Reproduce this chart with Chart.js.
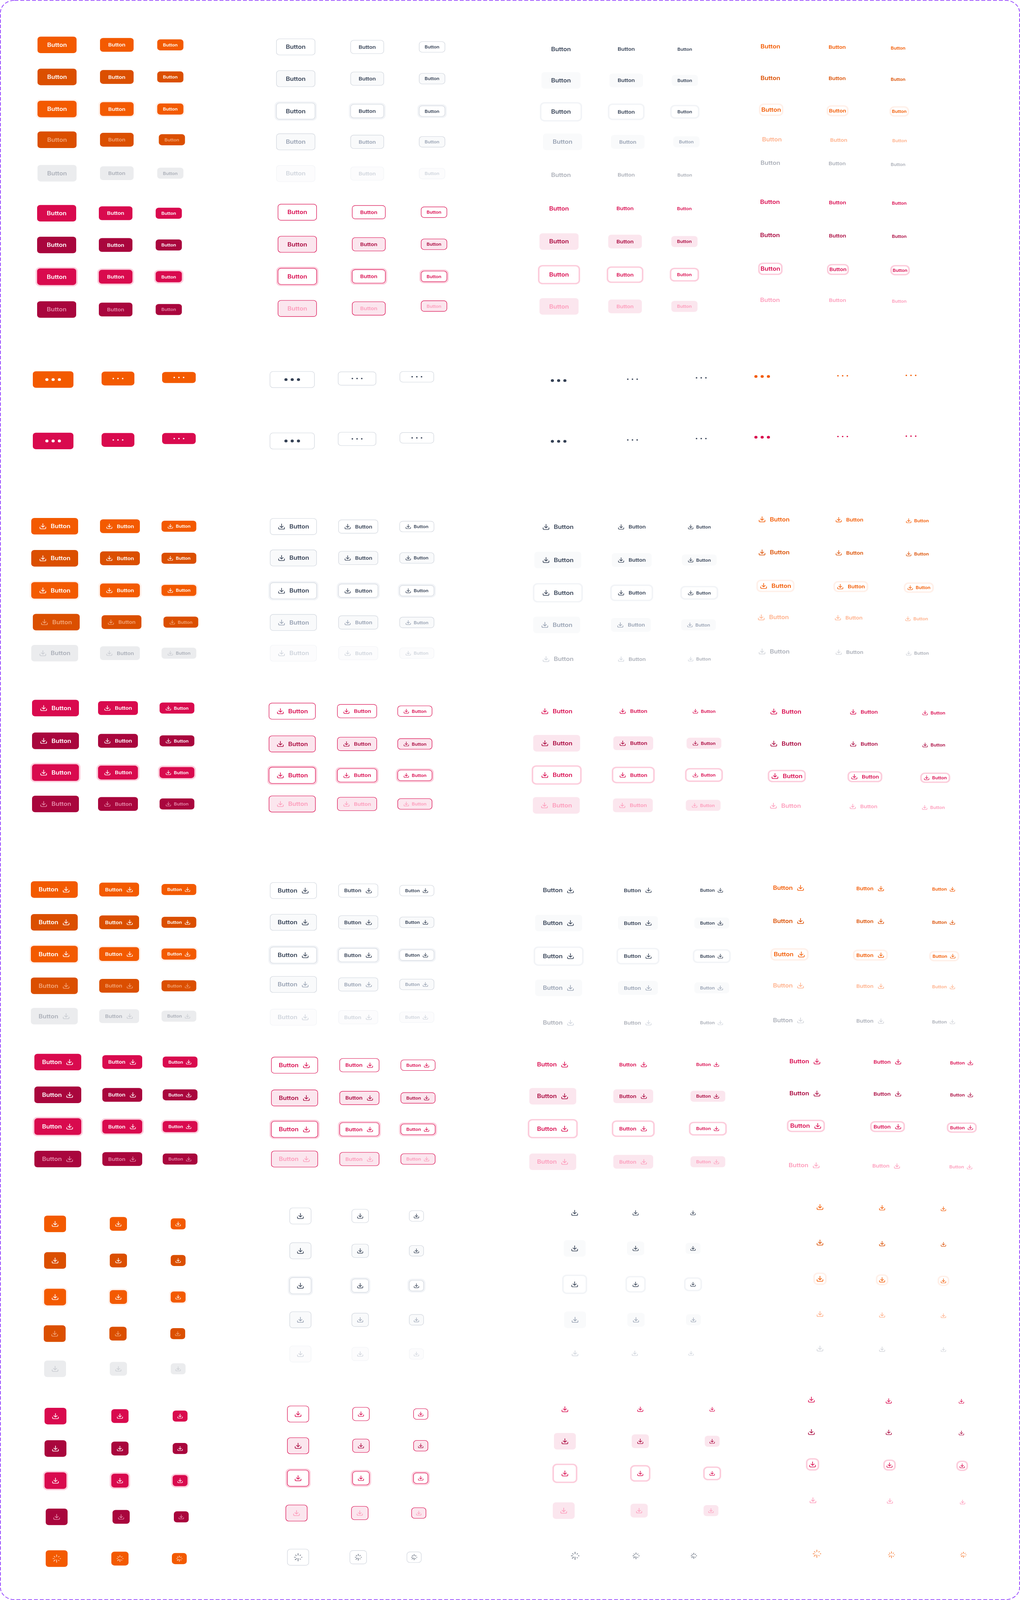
<!DOCTYPE html>
<html>
<head>
<meta charset="utf-8">
<title>Buttons</title>
<script src="https://cdn.jsdelivr.net/npm/chart.js@4"></script>
<style>
  html,body{margin:0;padding:0;background:#fff;overflow:hidden;}
  canvas{display:block;}
</style>
</head>
<body>
<canvas id="buttons_chart"></canvas>
<script>
// label on every button
const buttonLabel = 'Button';

// value arrays: x is [large,medium,small], nested when a row differs, y is one per row
// text only
const textFillOrangeX = [[146,299,436],[146,299,436],[146,299,436],[146,299,440],[146,299,436]];
const textFillOrangeY = [130,223,316,405,502];
const textFillPinkX = [145,296,432];
const textFillPinkY = [618,710,802,897];
const textLineGrayX = [757,940,1106];
const textLineGrayY = [136,228,322,411,503];
const textLinePinkX = [761,944,1111];
const textLinePinkY = [615,708,801,[894,894,887]];
const textPlainGrayX = [[1436,1603,1753],[1436,1603,1753],[1436,1603,1753],[1440,1607,1757],[1436,1603,1753]];
const textPlainGrayY = [142,233,324,411,507];
const textPlainPinkX = [1431,1600,1752];
const textPlainPinkY = [604,700,796,888];
const textLinkOrangeX = [[1972,2143,2299],[1972,2143,2299],[1974,2144,2302],[1976,2147,2303],[1972,2143,2299]];
const textLinkOrangeY = [[135,136,139],[226,227,230],[318,321,323],[404,406,408],[472,474,477]];
const textLinkPinkX = [[1971,2144,2302],[1971,2144,2302],[1972,2145,2304],[1971,2144,2302]];
const textLinkPinkY = [[585,587,589],[681,683,685],[779,781,783],[869,870,873]];

// dots only
const dotsFillOrangeX = [136,302,458];
const dotsFillOrangeY = [[1100,1097,1094]];
const dotsFillPinkX = [136,302,458];
const dotsFillPinkY = [[1278,1275,1271]];
const dotsLineGrayX = [748,914,1067];
const dotsLineGrayY = [[1100,1097,1092],[1278,1272,1269]];
const dotsPlainGrayX = [1430,1619,1795];
const dotsPlainGrayY = [[1103,1099,1095],[1279,1275,1271]];
const dotsLinkOrangeX = [1951,2157,2332];
const dotsLinkOrangeY = [[1091,1089,1088]];
const dotsLinkPinkX = [1951,2157,2332];
const dotsLinkPinkY = [[1267,1265,1264]];

// icon before the text
const leadFillOrangeX = [[140,307,458],[140,307,458],[140,307,458],[144,311,463],[140,307,458]];
const leadFillOrangeY = [1525,1618,1711,1803,1893];
const leadFillPinkX = [142,302,453];
const leadFillPinkY = [2052,2147,2239,2330];
const leadLineGrayX = [751,917,1067];
const leadLineGrayY = [1526,1617,1712,1804,1893];
const leadLinePinkX = [748,914,1062];
const leadLinePinkY = [2061,2156,2247,2330];
const leadPlainGrayX = [[1428,1617,1790],[1428,1617,1790],[1428,1617,1790],[1425,1615,1788],[1428,1617,1790]];
const leadPlainGrayY = [1527,1623,1718,1811,1910];
const leadPlainPinkX = [[1425,1621,1802],[1425,1621,1802],[1425,1621,1802],[1424,1620,1800]];
const leadPlainPinkY = [2061,2154,2246,2334];
const leadLinkOrangeX = [[1981,2174,2348],[1981,2174,2348],[1985,2178,2352],[1979,2172,2346],[1981,2174,2348]];
const leadLinkOrangeY = [[1505,1506,1509],[1601,1602,1605],[1698,1700,1703],[1789,1790,1793],[1888,1890,1893]];
const leadLinkPinkX = [[2011,2211,2390],[2011,2211,2390],[2014,2214,2394],[2010,2210,2389]];
const leadLinkPinkY = [[2062,2063,2066],[2155,2156,2159],[2249,2251,2254],[2335,2337,2340]];

// icon after the text
const trailFillOrangeX = [139,305,458];
const trailFillOrangeY = [2578,2673,2765,2857,2945];
const trailFillPinkX = [148,313,461];
const trailFillPinkY = [3078,3173,3265,3359];
const trailLineGrayX = [751,917,1067];
const trailLineGrayY = [2581,2673,2768,2853,2948];
const trailLinePinkX = [754,920,1070];
const trailLinePinkY = [3087,3182,3273,3359];
const trailPlainGrayX = [1430,1633,1822];
const trailPlainGrayY = [2580,2675,2771,2863,2964];
const trailPlainPinkX = [1415,1621,1812];
const trailPlainPinkY = [3085,3177,3271,3367];
const trailLinkOrangeX = [[2019,2228,2416],[2019,2228,2416],[2021,2228,2417],[2019,2228,2416],[2019,2228,2416]];
const trailLinkOrangeY = [[2573,2575,2577],[2669,2670,2673],[2766,2768,2771],[2856,2858,2860],[2957,2959,2961]];
const trailLinkPinkX = [[2061,2272,2462],[2061,2272,2462],[2063,2272,2462],[2059,2269,2460]];
const trailLinkPinkY = [[3076,3077,3080],[3169,3170,3173],[3263,3265,3268],[3377,3379,3382]];

// icon only
const iconFillOrangeX = [[141,303,456],[141,303,456],[141,303,456],[140,302,455],[141,303,456]];
const iconFillOrangeY = [3547,3653,3759,3865,3967];
const iconFillPinkX = [[142,307,461],[142,307,461],[142,307,461],[145,310,464]];
const iconFillPinkY = [4104,4198,4291,4396];
const iconLineGrayX = [769,922,1066];
const iconLineGrayY = [3524,3625,3726,3825,3924];
const iconLinePinkX = [[763,924,1077],[763,924,1077],[763,924,1077],[759,921,1072]];
const iconLinePinkY = [4098,4190,4284,4385];
const iconPlainGrayX = [[1471,1627,1774],[1471,1627,1774],[1471,1627,1774],[1472,1628,1775],[1472,1625,1769]];
const iconPlainGrayY = [3515,3618,3722,3825,3922];
const iconPlainPinkX = [[1446,1639,1823],[1446,1639,1823],[1446,1639,1823],[1443,1636,1820]];
const iconPlainPinkY = [4084,4177,4270,4378];
const iconLinkOrangeX = [2099,2258,2415];
const iconLinkOrangeY = [[3498,3500,3503],[3601,3604,3606],[3706,3709,3712],[3808,3811,3813],[3908,3910,3911]];
const iconLinkPinkX = [[2077,2275,2461],[2077,2275,2461],[2080,2277,2463],[2081,2278,2464]];
const iconLinkPinkY = [[4056,4060,4061],[4150,4151,4153],[4244,4246,4248],[4348,4350,4353]];

// spinner
const spinFillOrangeX = [145,307,459];
const spinFillOrangeY = [4517];
const spinLineGrayX = [763,917,1060];
const spinLineGrayY = [4513];
const spinPlainGrayX = [1472,1628,1776];
const spinPlainGrayY = [4509];
const spinLinkOrangeX = [2091,2282,2466];
const spinLinkOrangeY = [[4503,4506,4506]];

const gBlocks = [
  ['text','fillOrange',textFillOrangeX,textFillOrangeY],
  ['text','fillPink',textFillPinkX,textFillPinkY],
  ['text','lineGray',textLineGrayX,textLineGrayY],
  ['text','linePink',textLinePinkX,textLinePinkY],
  ['text','plainGray',textPlainGrayX,textPlainGrayY],
  ['text','plainPink',textPlainPinkX,textPlainPinkY],
  ['text','linkOrange',textLinkOrangeX,textLinkOrangeY],
  ['text','linkPink',textLinkPinkX,textLinkPinkY],
  ['dots','fillOrange',dotsFillOrangeX,dotsFillOrangeY],
  ['dots','fillPink',dotsFillPinkX,dotsFillPinkY],
  ['dots','lineGray',dotsLineGrayX,dotsLineGrayY],
  ['dots','plainGray',dotsPlainGrayX,dotsPlainGrayY],
  ['dots','linkOrange',dotsLinkOrangeX,dotsLinkOrangeY],
  ['dots','linkPink',dotsLinkPinkX,dotsLinkPinkY],
  ['lead','fillOrange',leadFillOrangeX,leadFillOrangeY],
  ['lead','fillPink',leadFillPinkX,leadFillPinkY],
  ['lead','lineGray',leadLineGrayX,leadLineGrayY],
  ['lead','linePink',leadLinePinkX,leadLinePinkY],
  ['lead','plainGray',leadPlainGrayX,leadPlainGrayY],
  ['lead','plainPink',leadPlainPinkX,leadPlainPinkY],
  ['lead','linkOrange',leadLinkOrangeX,leadLinkOrangeY],
  ['lead','linkPink',leadLinkPinkX,leadLinkPinkY],
  ['trail','fillOrange',trailFillOrangeX,trailFillOrangeY],
  ['trail','fillPink',trailFillPinkX,trailFillPinkY],
  ['trail','lineGray',trailLineGrayX,trailLineGrayY],
  ['trail','linePink',trailLinePinkX,trailLinePinkY],
  ['trail','plainGray',trailPlainGrayX,trailPlainGrayY],
  ['trail','plainPink',trailPlainPinkX,trailPlainPinkY],
  ['trail','linkOrange',trailLinkOrangeX,trailLinkOrangeY],
  ['trail','linkPink',trailLinkPinkX,trailLinkPinkY],
  ['icon','fillOrange',iconFillOrangeX,iconFillOrangeY],
  ['icon','fillPink',iconFillPinkX,iconFillPinkY],
  ['icon','lineGray',iconLineGrayX,iconLineGrayY],
  ['icon','linePink',iconLinePinkX,iconLinePinkY],
  ['icon','plainGray',iconPlainGrayX,iconPlainGrayY],
  ['icon','plainPink',iconPlainPinkX,iconPlainPinkY],
  ['icon','linkOrange',iconLinkOrangeX,iconLinkOrangeY],
  ['icon','linkPink',iconLinkPinkX,iconLinkPinkY],
  ['spin','fillOrange',spinFillOrangeX,spinFillOrangeY],
  ['spin','lineGray',spinLineGrayX,spinLineGrayY],
  ['spin','plainGray',spinPlainGrayX,spinPlainGrayY],
  ['spin','linkOrange',spinLinkOrangeX,spinLinkOrangeY]
];

// styles
const O = '#F35A00', OD = '#DB4F00', OR = '#FFF0E9';
const P = '#D90A4E', PD = '#A9063D', PR = '#FCCDDC', PL = '#FBE6EE', PM = '#FD9CBB';
const W = '#FFFFFF', T = '#344054', B = '#D0D5DD', H = '#F9FAFB', GR = '#F2F4F7';
const gLooks = {
  fillOrange:[{bg:O,fg:W},{bg:OD,fg:W},{bg:O,fg:W,ring:OR},{bg:OD,fg:'#F3A679'},{bg:'#EBECEE',fg:'#ABAFB8',ic:'#C9CCD2'}],
  fillPink:[{bg:P,fg:W},{bg:PD,fg:W},{bg:P,fg:W,ring:PR},{bg:PD,fg:'#E58BAA'}],
  lineGray:[{bg:W,bd:B,fg:T},{bg:H,bd:B,fg:T},{bg:W,bd:B,fg:T,ring:GR},{bg:H,bd:B,fg:'#98A2B3'},{bg:'#FCFCFD',bd:GR,fg:'#D0D5DD'}],
  linePink:[{bg:W,bd:P,fg:P},{bg:PL,bd:P,fg:PD},{bg:W,bd:P,fg:P,ring:PR},{bg:PL,bd:P,fg:PM}],
  plainGray:[{fg:T},{bg:H,fg:T},{bg:W,fg:T,ring:GR},{bg:H,fg:'#98A2B3'},{fg:'#ABAFB8',ic:'#D0D5DD'}],
  plainPink:[{fg:P},{bg:PL,fg:PD},{bg:W,fg:P,ring:PR},{bg:PL,fg:PM}],
  linkOrange:[{fg:O},{fg:OD},{bg:W,fg:O,ring:OR},{fg:'#FFB08A'},{fg:'#ABAFB8',ic:'#D0D3D9'}],
  linkPink:[{fg:P},{fg:PD},{bg:W,fg:P,ring:PR},{fg:PM}]
};
const gFontPx = [16,14,12];
const gIconPx = [20,18,16];
const gSpinPx = [22,18,16];
const gGapPx = [10,10,6];
const gHeightPx = [48,40,32];
const gLinkHeightPx = [28,24,22];
const gLinkPadPx = {text:4,lead:9,trail:9,icon:6,dots:4,spin:6};
const gWidthPx = {text:[100,86,67],lead:[120,102,89],trail:[120,102,89],icon:[56,44,38],spin:[56,44,38]};
const gDotsWidthPx = {fill:[104,84,86],line:[115,98,88]};
const gDotR = [4,2,2];
const gDotStep = [16,12,12];

const drawDownload = (ctx,cx,cy,px,color) => {
  const s = px/20;
  ctx.save();
  ctx.translate(cx-px/2,cy-px/2);
  ctx.scale(s,s);
  ctx.strokeStyle = color;
  ctx.lineWidth = 1.67;
  ctx.lineCap = 'round';
  ctx.lineJoin = 'round';
  ctx.beginPath();
  ctx.moveTo(10,2.5);ctx.lineTo(10,13);
  ctx.moveTo(5.8,8.8);ctx.lineTo(10,13);ctx.lineTo(14.2,8.8);
  ctx.moveTo(2.5,12.5);ctx.lineTo(2.5,15);
  ctx.quadraticCurveTo(2.5,17.5,5,17.5);
  ctx.lineTo(15,17.5);
  ctx.quadraticCurveTo(17.5,17.5,17.5,15);
  ctx.lineTo(17.5,12.5);
  ctx.stroke();
  ctx.restore();
};

// spoke ends as fractions of the radius, clockwise from the top
const gSpokes = [[0.5,1],[0.6,0.85],[0.75,0.95],[0.6,0.8],[0.3,1],[0.45,0.95],[0.55,0.9],[0.55,0.85]];
const drawSpinner = (ctx,cx,cy,px,color) => {
  const r = px/2;
  ctx.save();
  ctx.strokeStyle = color;
  ctx.lineWidth = 1.3;
  ctx.lineCap = 'round';
  gSpokes.forEach((sp,i) => {
    const a = i*Math.PI/4 - Math.PI/2;
    ctx.beginPath();
    ctx.moveTo(cx+Math.cos(a)*r*sp[0],cy+Math.sin(a)*r*sp[0]);
    ctx.lineTo(cx+Math.cos(a)*r*sp[1],cy+Math.sin(a)*r*sp[1]);
    ctx.stroke();
  });
  ctx.restore();
};

const drawDots = (ctx,cx,cy,size,color) => {
  ctx.fillStyle = color;
  for(let i = -1;i <= 1;i++) {
    ctx.beginPath();
    ctx.arc(cx+i*gDotStep[size],cy,gDotR[size],0,Math.PI*2);
    ctx.fill();
  }
};

const textWidth = (ctx,size) => {
  ctx.font = '600 '+gFontPx[size]+'px Inter';
  return ctx.measureText(buttonLabel).width;
};

const contentWidth = (ctx,kind,size) => {
  if(kind === 'text') return textWidth(ctx,size);
  if(kind === 'lead' || kind === 'trail') return textWidth(ctx,size)+gGapPx[size]+gIconPx[size];
  if(kind === 'dots') return gDotStep[size]*2+8;
  return gIconPx[size];
};

const boxSize = (ctx,kind,lookName,size) => {
  if(lookName.startsWith('link')) {
    return [contentWidth(ctx,kind,size)+gLinkPadPx[kind],gLinkHeightPx[size]];
  }
  if(kind === 'dots') {
    const w = lookName.startsWith('fill') ? gDotsWidthPx.fill : gDotsWidthPx.line;
    return [w[size],gHeightPx[size]];
  }
  return [gWidthPx[kind][size],gHeightPx[size]];
};

// drawn round (0,0), the caller has already moved there
const drawButton = (ctx,pt) => {
  const look = gLooks[pt.look][pt.state];
  const size = pt.size;
  const [w,h] = boxSize(ctx,pt.kind,pt.look,size);
  const left = -w/2, top = -h/2;
  if(look.ring) {
    ctx.fillStyle = look.ring;
    ctx.beginPath();
    ctx.roundRect(left-4,top-4,w+8,h+8,12);
    ctx.fill();
  }
  if(look.bg) {
    ctx.fillStyle = look.bg;
    ctx.beginPath();
    ctx.roundRect(left,top,w,h,8);
    ctx.fill();
  }
  if(look.bd) {
    ctx.strokeStyle = look.bd;
    ctx.lineWidth = 1.25;
    ctx.beginPath();
    ctx.roundRect(left+0.6,top+0.6,w-1.2,h-1.2,8);
    ctx.stroke();
  }
  const ic = look.ic || look.fg;
  const iconPx = gIconPx[size];
  if(pt.kind === 'icon') {
    drawDownload(ctx,0,0,iconPx,ic);
  } else if(pt.kind === 'spin') {
    drawSpinner(ctx,0,0,gSpinPx[size],ic);
  } else if(pt.kind === 'dots') {
    drawDots(ctx,0,0,size,look.fg);
  } else {
    const tw = textWidth(ctx,size);
    const total = contentWidth(ctx,pt.kind,size);
    let tx = -total/2;
    if(pt.kind === 'lead') {
      drawDownload(ctx,tx+iconPx/2,0,iconPx,ic);
      tx += iconPx+gGapPx[size];
    } else if(pt.kind === 'trail') {
      drawDownload(ctx,tx+tw+gGapPx[size]+iconPx/2,0,iconPx,ic);
    }
    ctx.font = '600 '+gFontPx[size]+'px Inter';
    ctx.fillStyle = look.fg;
    ctx.textAlign = 'left';
    ctx.textBaseline = 'middle';
    ctx.fillText(buttonLabel,tx,1);
  }
};

const buttonMarks = {
  id:'buttonMarks',
  beforeDatasetsDraw(chart) {
    const ctx = chart.ctx;
    const sy = chart.height/pageHeight;
    ctx.save();
    ctx.scale(1,sy);
    ctx.strokeStyle = '#9747FF';
    ctx.lineWidth = 2;
    ctx.setLineDash([10,5]);
    ctx.beginPath();
    ctx.roundRect(1,1,chart.width-2,pageHeight-2,36);
    ctx.stroke();
    ctx.restore();
  },
  afterDatasetsDraw(chart) {
    const ctx = chart.ctx;
    const sy = chart.height/pageHeight;
    chart.data.datasets.forEach((ds,i) => {
      chart.getDatasetMeta(i).data.forEach((el,j) => {
        ctx.save();
        ctx.translate(el.x,el.y);
        ctx.scale(1,sy);
        drawButton(ctx,ds.data[j]);
        ctx.restore();
      });
    });
  }
};

const buildDatasets = () => {
  const out = [];
  gBlocks.forEach(([kind,look,xs,ys]) => {
    const data = [];
    ys.forEach((rowY,row) => {
      for(let size = 0;size < 3;size++) {
        const x = Array.isArray(xs[row]) ? xs[row][size] : xs[size];
        const y = Array.isArray(rowY) ? rowY[size] : rowY;
        const state = (kind === 'dots' || kind === 'spin') ? 0 : row;
        data.push({x,y,kind,look,size,state});
      }
    });
    out.push({label:kind+' '+look,data,pointRadius:0,pointHoverRadius:0,showLine:false});
  });
  return out;
};

const pageWidth = 2611;
const pageHeight = 4637;

document.addEventListener('DOMContentLoaded',()=>{
  const canvas = document.getElementById('buttons_chart');
  // the browser may hand out a shorter window than asked for, keep the whole sheet in view
  const h = Math.min(window.innerHeight || pageHeight,pageHeight);
  canvas.width = pageWidth;
  canvas.height = h;
  canvas.style.width = pageWidth+'px';
  canvas.style.height = h+'px';
  new Chart(canvas.getContext('2d'),{
    type:'scatter',
    data:{datasets:buildDatasets()},
    options:{
      responsive:false,
      animation:false,
      devicePixelRatio:1,
      layout:{padding:0},
      events:[],
      plugins:{legend:{display:false},tooltip:{enabled:false}},
      scales:{
        x:{type:'linear',min:0,max:pageWidth,display:false},
        y:{type:'linear',min:0,max:pageHeight,reverse:true,display:false}
      }
    },
    plugins:[buttonMarks]
  });
});
</script>
</body>
</html>
